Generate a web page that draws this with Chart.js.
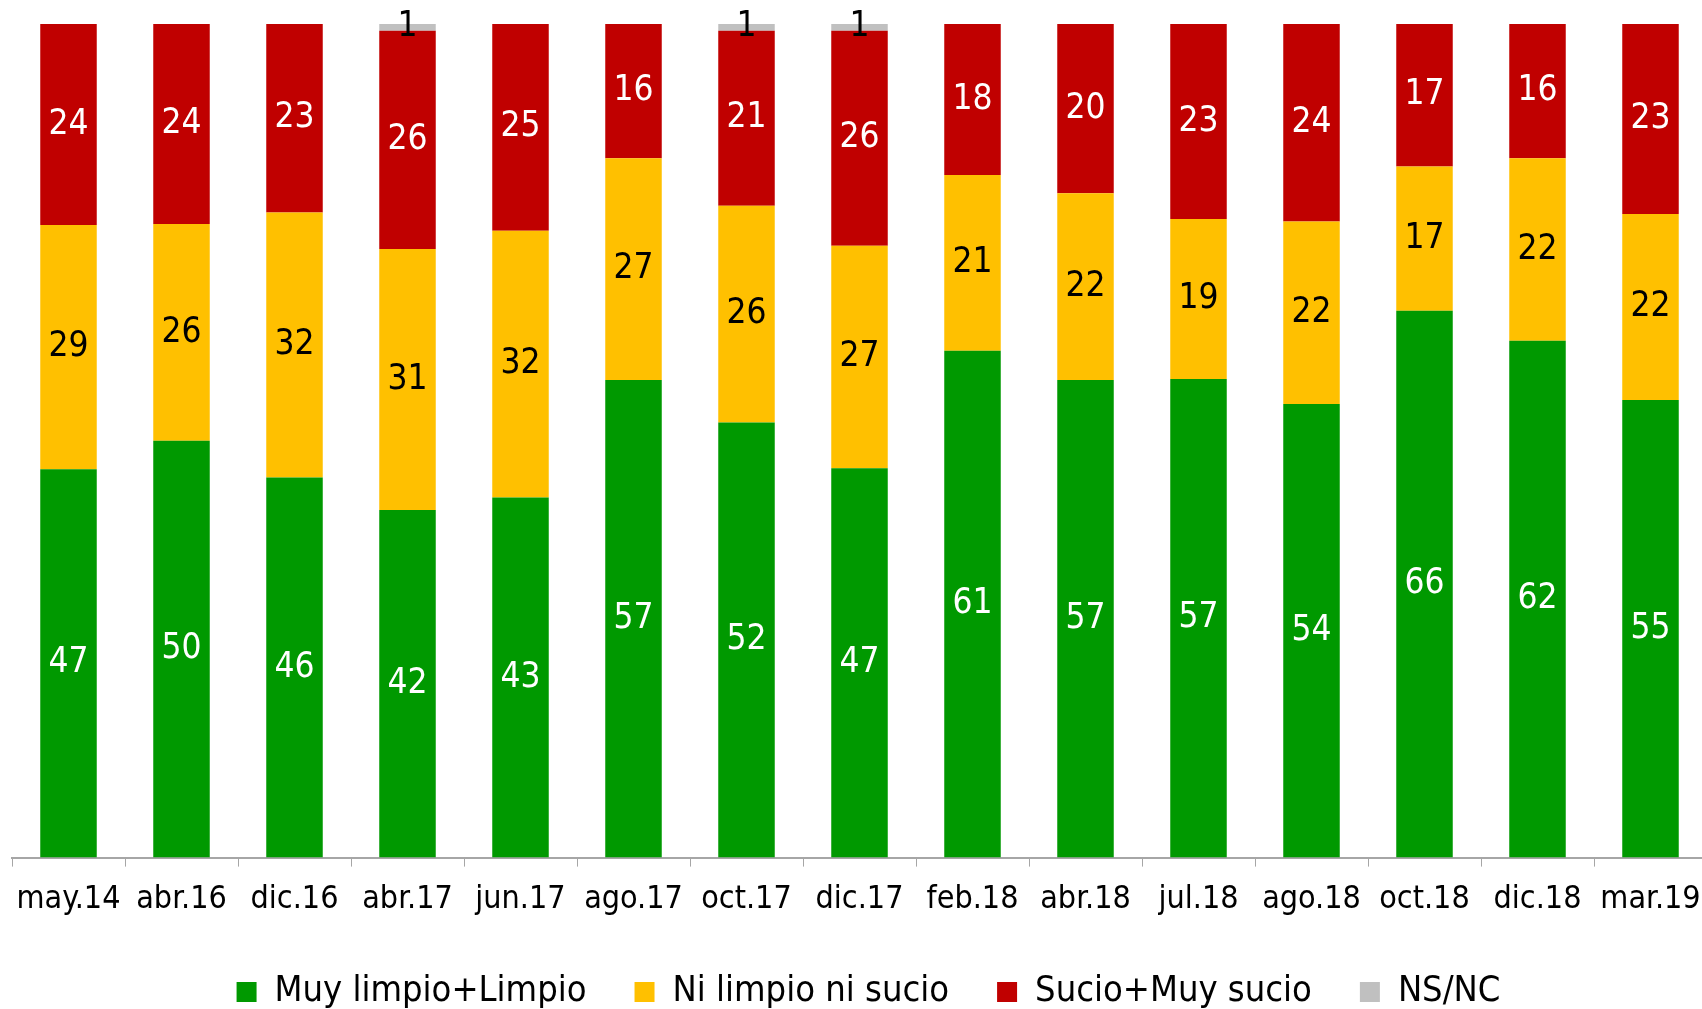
<!DOCTYPE html>
<html>
<head>
<meta charset="utf-8">
<script src="https://cdn.jsdelivr.net/npm/chart.js@4.4.0/dist/chart.umd.min.js"></script>
<style>
  html, body { margin: 0; padding: 0; background: #fff; overflow: hidden; }
  #wrap { position: relative; width: 1720px; height: 1009px; }
</style>
</head>
<body>
<div id="wrap"><canvas id="limpieza-chart"></canvas></div>
<script>
// --- DATOS ---
const categorias = ['may.14','abr.16','dic.16','abr.17','jun.17','ago.17','oct.17','dic.17',
                    'feb.18','abr.18','jul.18','ago.18','oct.18','dic.18','mar.19'];
const limpio  = [46.6, 50.0, 45.6, 41.7, 43.2, 57.3, 52.2, 46.7, 60.8, 57.3, 57.4, 54.4, 65.6, 62.0, 54.9];
const niNi    = [29.3, 26.0, 31.8, 31.3, 32.0, 26.6, 26.0, 26.7, 21.1, 22.4, 19.2, 21.9, 17.3, 21.9, 22.3];
const sucio   = [24.1, 24.0, 22.6, 26.2, 24.8, 16.1, 21.0, 25.8, 18.1, 20.3, 23.4, 23.7, 17.1, 16.1, 22.8];
const nsnc    = [0, 0, 0, 0.8, 0, 0, 0.8, 0.8, 0, 0, 0, 0, 0, 0, 0];

const FONT = "'DejaVu Sans Condensed', 'DejaVu Sans', sans-serif";

// --- ETIQUETAS DENTRO DE LAS BARRAS ---
const etiquetasPlugin = {
    id: 'etiquetas',
    afterDatasetsDraw(chart) {
        const ctx = chart.ctx;
        ctx.save();
        ctx.font = '35px ' + FONT;
        ctx.textAlign = 'center';
        ctx.textBaseline = 'middle';
        chart.data.datasets.forEach((ds, i) => {
            const meta = chart.getDatasetMeta(i);
            meta.data.forEach((bar, j) => {
                const v = ds.data[j];
                if (!v) return;
                ctx.fillStyle = ds.labelColor;
                ctx.fillText(String(Math.round(v)), bar.x, (bar.y + bar.base) / 2);
            });
        });
        ctx.restore();
    }
};

// leyenda: un poco más baja y algo desplazada a la derecha
const leyendaAjuste = {
    id: 'leyendaAjuste',
    beforeInit(chart) {
        const fitOrig = chart.legend.fit;
        chart.legend.fit = function () {
            fitOrig.bind(chart.legend)();
            this.height -= 11;
        };
    },
    afterLayout(chart) {
        chart.legend.left += 9;
        chart.legend.right += 9;
    }
};

const ctx = document.getElementById('limpieza-chart').getContext('2d');
new Chart(ctx, {
    type: 'bar',
    data: {
        labels: categorias,
        datasets: [
            { label: 'Muy limpio+Limpio', data: limpio, backgroundColor: '#009900', labelColor: '#ffffff' },
            { label: 'Ni limpio ni sucio', data: niNi, backgroundColor: '#FFC000', labelColor: '#000000' },
            { label: 'Sucio+Muy sucio', data: sucio, backgroundColor: '#C00000', labelColor: '#ffffff' },
            { label: 'NS/NC', data: nsnc, backgroundColor: '#C0C0C0', labelColor: '#000000' }
        ]
    },
    options: {
        responsive: true, maintainAspectRatio: false,
        animation: false,
        datasets: { bar: { categoryPercentage: 1, barPercentage: 0.5 } },
        layout: { padding: { left: 12, right: 13, top: 24, bottom: 0 } },
        plugins: {
            tooltip: { enabled: false },
            legend: {
                position: 'bottom',
                labels: {
                    color: '#000',
                    font: { family: FONT, size: 36 },
                    boxWidth: 20, boxHeight: 20,
                    padding: 48
                }
            }
        },
        scales: {
            x: {
                stacked: true,
                border: { color: '#a6a6a6', width: 2 },
                grid: { display: true, drawOnChartArea: false, color: '#a6a6a6', tickLength: 9, offset: true },
                ticks: { color: '#000', font: { family: FONT, size: 32 }, padding: 14, maxRotation: 0 },
                afterFit(scale) { scale.height -= 7; }
            },
            y: {
                stacked: true, display: false, min: 0, max: 100
            }
        }
    },
    plugins: [etiquetasPlugin, leyendaAjuste]
});
</script>
</body>
</html>
